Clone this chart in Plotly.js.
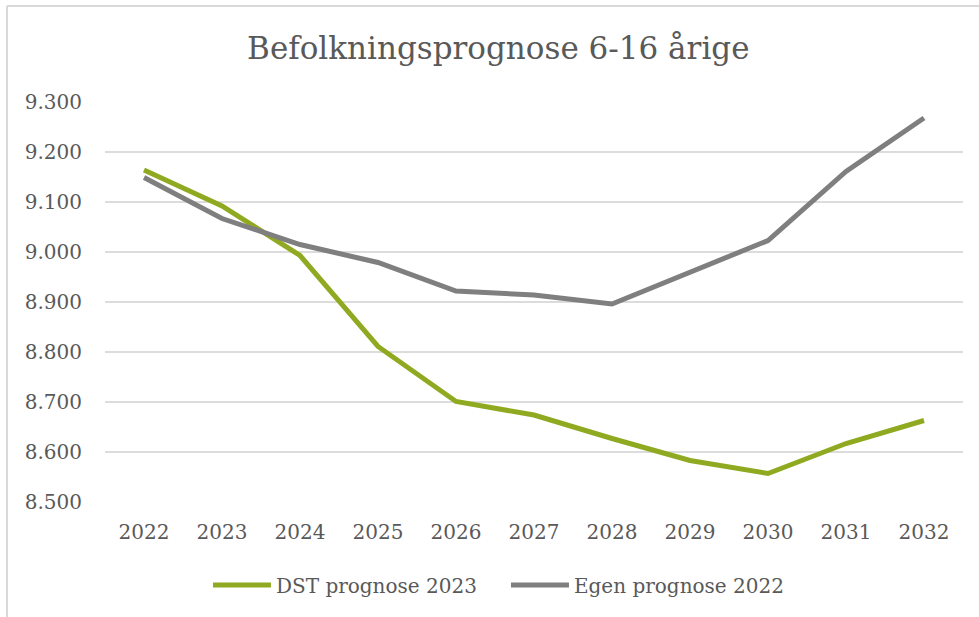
<!DOCTYPE html>
<html>
<head>
<meta charset="utf-8">
<script src="https://cdn.plot.ly/plotly-3.0.1.min.js"></script>
<style>
html,body{margin:0;padding:0;background:#fff;}
#chart{width:979px;height:617px;}
</style>
</head>
<body>
<div id="chart"></div>
<script>
const years = ['2022','2023','2024','2025','2026','2027','2028','2029','2030','2031','2032'];
const dstPrognose2023 = [9164, 9092, 8993, 8811, 8701, 8674, 8627, 8583, 8557, 8617, 8663];
const egenPrognose2022 = [9149, 9067, 9015, 8979, 8922, 8914, 8896, 8959, 9023, 9161, 9268];
const yTicks = [8500, 8600, 8700, 8800, 8900, 9000, 9100, 9200, 9300];
const yTickLabels = ['8.500','8.600','8.700','8.800','8.900','9.000','9.100','9.200','9.300'];

const FONT = 'DejaVu Serif, Liberation Serif, serif';
const traces = [
  {x: years, y: dstPrognose2023, type: 'scatter', mode: 'lines', name: 'DST prognose 2023',
   line: {color: '#8FAA21', width: 5}},
  {x: years, y: egenPrognose2022, type: 'scatter', mode: 'lines', name: 'Egen prognose 2022',
   line: {color: '#7F7F7F', width: 5}}
];
const layout = {
  width: 979, height: 617,
  margin: {l: 105, r: 16, t: 102, b: 115},
  paper_bgcolor: '#fff', plot_bgcolor: '#fff',
  font: {family: FONT, color: '#595959', size: 20},
  title: {text: 'Befolkningsprognose 6-16 årige', x: 0.509, xanchor: 'center', y: 0.922, yanchor: 'middle',
          font: {family: FONT, size: 31, color: '#595959'}},
  xaxis: {type: 'category', range: [-0.5, 10.5], showgrid: false, zeroline: false, showline: false, ticks: '',
          ticklabelstandoff: 16, tickfont: {family: FONT, size: 20, color: '#595959'}},
  yaxis: {range: [8500, 9300], tickvals: yTicks, ticktext: yTickLabels, showgrid: true,
          gridcolor: '#DCDCDC', gridwidth: 1.5, zeroline: false, showline: false, ticks: '',
          ticklabelstandoff: 22, tickfont: {family: FONT, size: 20, color: '#595959'}},
  showlegend: true,
  legend: {orientation: 'h', x: 0.12, xanchor: 'left', y: -0.2075, yanchor: 'middle',
           font: {family: FONT, size: 20, color: '#595959'}, itemwidth: 58,
           entrywidth: 225, entrywidthmode: 'pixels', traceorder: 'normal'},
  shapes: [
    {type: 'line', xref: 'paper', yref: 'paper', x0: -0.1142, x1: 1.1, y0: 1.24, y1: 1.24,
     line: {color: '#D9D9D9', width: 2}},
    {type: 'line', xref: 'paper', yref: 'paper', x0: -0.1142, x1: -0.1142, y0: 1.24, y1: -0.32,
     line: {color: '#D9D9D9', width: 2}}
  ]
};
Plotly.newPlot('chart', traces, layout, {staticPlot: true, displayModeBar: false});
</script>
</body>
</html>
